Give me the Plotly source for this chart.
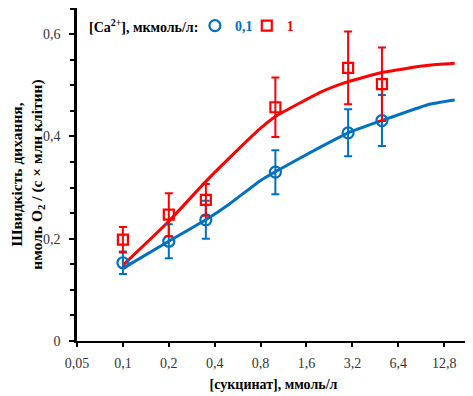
import plotly.graph_objects as go

# measured points
x_points = [0.1, 0.2, 0.35, 1, 3, 5]
blue_y = [0.153, 0.195, 0.237, 0.330, 0.407, 0.431]
blue_err = [0.022, 0.033, 0.037, 0.043, 0.046, 0.050]
red_y = [0.198, 0.247, 0.276, 0.457, 0.534, 0.502]
red_err = [0.025, 0.042, 0.031, 0.058, 0.071, 0.072]

# fitted curves
curve_x = [0.1, 0.2, 0.35, 0.5, 0.8, 1, 2, 3, 5, 10, 15]
blue_fit = [0.142, 0.195, 0.237, 0.268, 0.314, 0.331, 0.380, 0.407, 0.431, 0.462, 0.471]
red_fit = [0.148, 0.234, 0.312, 0.358, 0.416, 0.439, 0.487, 0.507, 0.525, 0.539, 0.543]

x_ticks = [0.05, 0.1, 0.2, 0.4, 0.8, 1.6, 3.2, 6.4, 12.8]
x_ticktext = ["0,05", "0,1", "0,2", "0,4", "0,8", "1,6", "3,2", "6,4", "12,8"]
y_ticks = [0, 0.2, 0.4, 0.6]
y_ticktext = ["0", "0,2", "0,4", "0,6"]

BLUE = "#0070C0"
RED = "#FF0000"
FONT = "Liberation Serif, Times New Roman, serif"

fig = go.Figure()
fig.add_trace(go.Scatter(x=curve_x, y=blue_fit, mode="lines",
                         line=dict(color=BLUE, width=3, shape="spline", smoothing=0.4),
                         showlegend=False, hoverinfo="skip"))
fig.add_trace(go.Scatter(x=curve_x, y=red_fit, mode="lines",
                         line=dict(color=RED, width=3, shape="spline", smoothing=0.4),
                         showlegend=False, hoverinfo="skip"))
fig.add_trace(go.Scatter(x=x_points, y=blue_y, mode="markers",
                         name="<span style='color:#0070C0'>0,1</span>", legend="legend",
                         marker=dict(symbol="circle-open", size=11, color=BLUE, line=dict(width=2.2)),
                         error_y=dict(type="data", array=blue_err, color=BLUE, thickness=2, width=4)))
fig.add_trace(go.Scatter(x=x_points, y=red_y, mode="markers",
                         name="<span style='color:#FF0000'>1</span>", legend="legend2",
                         marker=dict(symbol="square-open", size=10, color=RED, line=dict(width=2.2)),
                         error_y=dict(type="data", array=red_err, color=RED, thickness=2, width=4)))

legend_common = dict(
    orientation="h", y=0.946, xanchor="left", yanchor="middle",
    font=dict(family=FONT, size=14, color="black", weight="bold"),
    itemwidth=30, bgcolor="rgba(0,0,0,0)",
)

fig.update_layout(
    width=465, height=388,
    margin=dict(l=69, r=3, t=0, b=54.5, autoexpand=False),
    paper_bgcolor="white", plot_bgcolor="white",
    font=dict(family=FONT, size=14, color="#333333"),
    legend=dict(x=0.30, **legend_common),
    legend2=dict(x=0.432, **legend_common),
    annotations=[dict(
        text="<b>[Ca<sup>2+</sup>], мкмоль/л:</b>", xref="paper", yref="paper",
        x=0.026, y=0.946, xanchor="left", yanchor="middle", showarrow=False,
        font=dict(family=FONT, size=14, color="black"),
    )],
)
fig.update_xaxes(
    type="log", range=[-1.30103, 1.2765], automargin=False,
    tickvals=x_ticks, ticktext=x_ticktext,
    showline=True, linecolor="black", linewidth=2,
    ticks="outside", ticklen=4, tickwidth=2, tickcolor="black",
    ticklabelstandoff=4,
    showgrid=False, zeroline=False,
    title=dict(text="<b>[сукцинат], ммоль/л</b>", standoff=9,
               font=dict(family=FONT, size=14, color="black")),
)
fig.update_yaxes(
    range=[0, 0.651], automargin=False,
    tickvals=y_ticks, ticktext=y_ticktext,
    showline=True, linecolor="black", linewidth=2.5,
    ticks="outside", ticklen=5, tickwidth=2, tickcolor="black",
    minor=dict(dtick=0.05, tick0=0, ticks="outside", ticklen=4, tickwidth=2, tickcolor="black"),
    ticklabelstandoff=6,
    showgrid=False, zeroline=False,
    title=dict(text="<b>Швидкість дихання,<br>нмоль O<sub>2</sub> / (с × млн клітин)</b>", standoff=2,
               font=dict(family=FONT, size=15.5, color="black")),
)

fig.write_html("out.html")
